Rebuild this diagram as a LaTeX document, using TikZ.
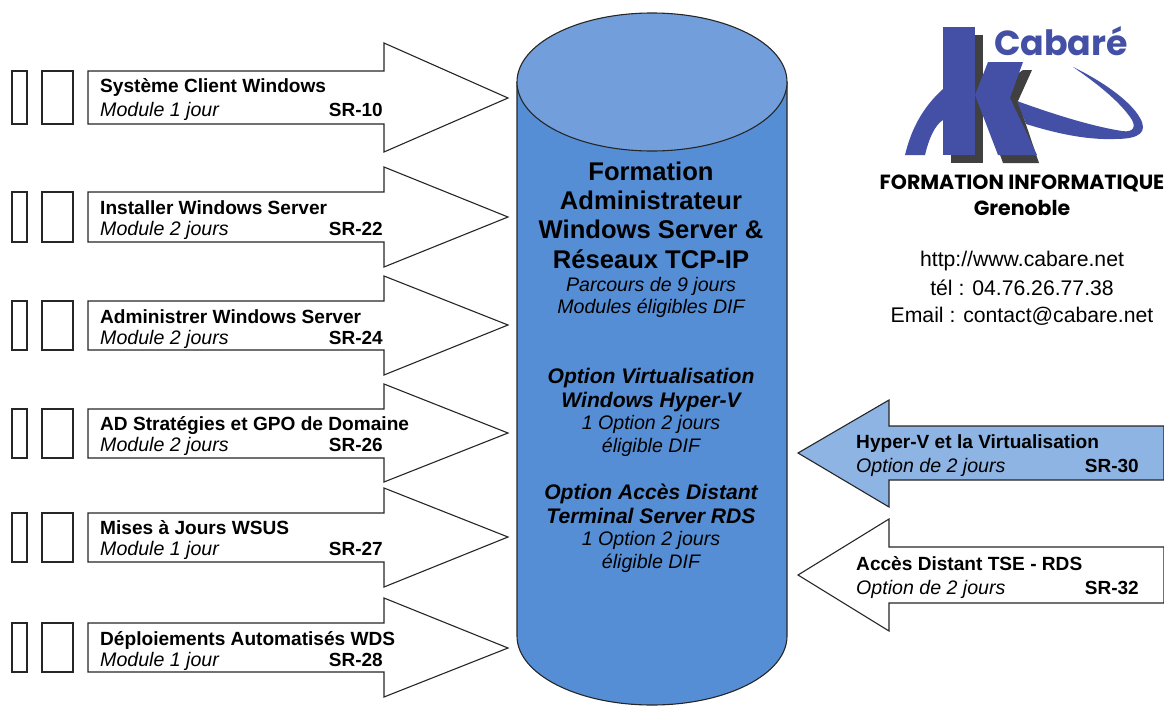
\documentclass[tikz,border=0pt]{standalone}
\usepackage{fontspec}
\setmainfont{Liberation Sans}
\newfontfamily\logofont{Poppins}
\usetikzlibrary{positioning}
\definecolor{cylside}{HTML}{558ED5}
\definecolor{cyltop}{HTML}{729FDB}
\definecolor{optblue}{HTML}{8EB4E3}
\definecolor{logoblue}{HTML}{4350A6}
\definecolor{logoshadow}{HTML}{404040}
\tikzset{
  outline/.style={draw=black!85,line width=1.1pt,line join=miter},
  slot/.style={outline,fill=white},
  titletext/.style={anchor=base west,inner sep=0pt,font=\fontsize{19.1}{21}\selectfont\bfseries},
  subtext/.style={anchor=base west,inner sep=0pt,font=\fontsize{19.6}{21}\selectfont\itshape},
  reftext/.style={anchor=base east,inner sep=0pt,font=\fontsize{19}{21}\selectfont\bfseries},
  bigtext/.style={anchor=base,inner sep=0pt,font=\fontsize{25.6}{27}\selectfont\bfseries},
  optitle/.style={anchor=base,inner sep=0pt,font=\fontsize{21.1}{23}\selectfont\bfseries\itshape},
  smalltext/.style={anchor=base,inner sep=0pt,font=\fontsize{19.6}{21}\selectfont\itshape},
  contact/.style={anchor=base,inner sep=0pt,font=\fontsize{21.2}{23}\selectfont},
  logotext/.style={anchor=base,inner sep=0pt,font=\logofont\fontsize{20.5}{22}\selectfont\bfseries},
}
\begin{document}
\begin{tikzpicture}[x=1pt,y=-1pt]
  \useasboundingbox (0,0) rectangle (1164,707);
  % left modules: top, bottom, head top, tip, head bottom of each arrow
  \foreach \name/\st/\sb/\ht/\tp/\hb in {a/71/124/43/98/152,b/192/242/167/217/267,c/301/350/276/325/375,
      d/409/458/384/433/482,e/513/562/488/537/587,f/623/672/598/648/697} {
    \draw[slot] (12,\st) rectangle (27,\sb);
    \draw[slot] (42,\st) rectangle (73,\sb);
    \draw[slot] (88,\st) -- (384,\st) -- (384,\ht) -- (508,\tp) -- (384,\hb) -- (384,\sb) -- (88,\sb) -- cycle;
  }
  % cylinder
  \fill[cylside] (517,82) -- (517,636) arc[start angle=180,end angle=0,x radius=135,y radius=69] -- (787,82) -- cycle;
  \draw[outline] (517,82) -- (517,636) arc[start angle=180,end angle=0,x radius=135,y radius=69] -- (787,82);
  \draw[outline,fill=cyltop] (652,82) ellipse[x radius=135,y radius=69];
  % right options
  \draw[outline,fill=optblue] (1164,426) -- (889,426) -- (889,400) -- (798,453) -- (889,507) -- (889,480) -- (1164,480) -- cycle;
  \draw[slot] (1164,547) -- (889,547) -- (889,519) -- (798,575) -- (889,631) -- (889,603) -- (1164,603) -- cycle;
  % module labels
  \foreach \name/\lbl/\sub/\code/\ya/\yb in {a/Système Client Windows/Module 1 jour/SR-10/92/116,
      b/Installer Windows Server/Module 2 jours/SR-22/214/235,
      c/Administrer Windows Server/Module 2 jours/SR-24/323/344,
      d/AD Stratégies et GPO de Domaine/Module 2 jours/SR-26/430/451,
      e/Mises à Jours WSUS/Module 1 jour/SR-27/534/555,
      f/Déploiements Automatisés WDS/Module 1 jour/SR-28/645/666} {
    \node[titletext] (\name title) at (100,\ya) {\lbl};
    \node[subtext] (\name sub) at (100,\yb) {\sub};
    \node[reftext] (\name ref) at (383,\yb) {\code};
  }
  \node[titletext] (hyper title) at (856,448) {Hyper-V et la Virtualisation};
  \node[subtext] (hyper sub) at (856,472) {Option de 2 jours};
  \node[reftext] (hyper ref) at (1139,472) {SR-30};
  \node[titletext] (tse title) at (856,570) {Accès Distant TSE - RDS};
  \node[subtext] (tse sub) at (856,594) {Option de 2 jours};
  \node[reftext] (tse ref) at (1139,594) {SR-32};
  % cylinder text
  \node[bigtext] (main1) at (651,180) {Formation};
  \node[bigtext] (main2) at (651,209) {Administrateur};
  \node[bigtext] (main3) at (651,238) {Windows Server \&};
  \node[bigtext] (main4) at (651,268) {Réseaux TCP-IP};
  \node[smalltext] (main5) at (651,291) {Parcours de 9 jours};
  \node[smalltext] (main6) at (651,313) {Modules éligibles DIF};
  \node[optitle] (virt1) at (651,383) {Option Virtualisation};
  \node[optitle] (virt2) at (651,407) {Windows Hyper-V};
  \node[smalltext] (virt3) at (651,429) {1 Option 2 jours};
  \node[smalltext] (virt4) at (651,452) {éligible DIF};
  \node[optitle] (rds1) at (651,499) {Option Accès Distant};
  \node[optitle] (rds2) at (651,523) {Terminal Server RDS};
  \node[smalltext] (rds3) at (651,545) {1 Option 2 jours};
  \node[smalltext] (rds4) at (651,568) {éligible DIF};
  % logo
  \fill[logoshadow] (951,35) rectangle (983,163);
  \fill[logoshadow] (1023,70) -- (1032,70) -- (1018,101) -- (1039,163) -- (1003,163) -- (980,100) -- cycle;
  \fill[logoblue] (943,89) .. controls (922,108) and (911,130) .. (905,155) -- (925,155) .. controls (929,138) and (935,125) .. (943,120) -- cycle;
  \fill[logoblue] (1017,101) .. controls (1050,113) and (1090,126) .. (1122,131) .. controls (1134,133) and (1137,126) .. (1130,117) .. controls (1118,100) and (1095,82) .. (1073,67) .. controls (1100,80) and (1130,100) .. (1140,118) .. controls (1148,132) and (1140,139) .. (1115,139) .. controls (1085,140) and (1055,133) .. (1026,124) -- cycle;
  \fill[logoblue] (943,27) rectangle (975,155);
  \fill[logoblue] (988,62) -- (1023,62) -- (1010,98) -- (1037,155) -- (998,155) -- (975,95) -- cycle;
  \node[anchor=base,inner sep=0pt,text=logoblue,font=\logofont\fontsize{34.8}{36}\selectfont\bfseries] (brand) at (1061,55) {Cabaré};
  \node[logotext] (logo1) at (1022,189) {FORMATION INFORMATIQUE};
  \node[logotext] (logo2) at (1022,215) {Grenoble};
  \node[contact] (web) at (1022,266) {http://www.cabare.net};
  \node[contact] (tel) at (1022,295) {tél : 04.76.26.77.38};
  \node[contact] (mail) at (1022,322) {Email : contact@cabare.net};
\end{tikzpicture}
\end{document}
